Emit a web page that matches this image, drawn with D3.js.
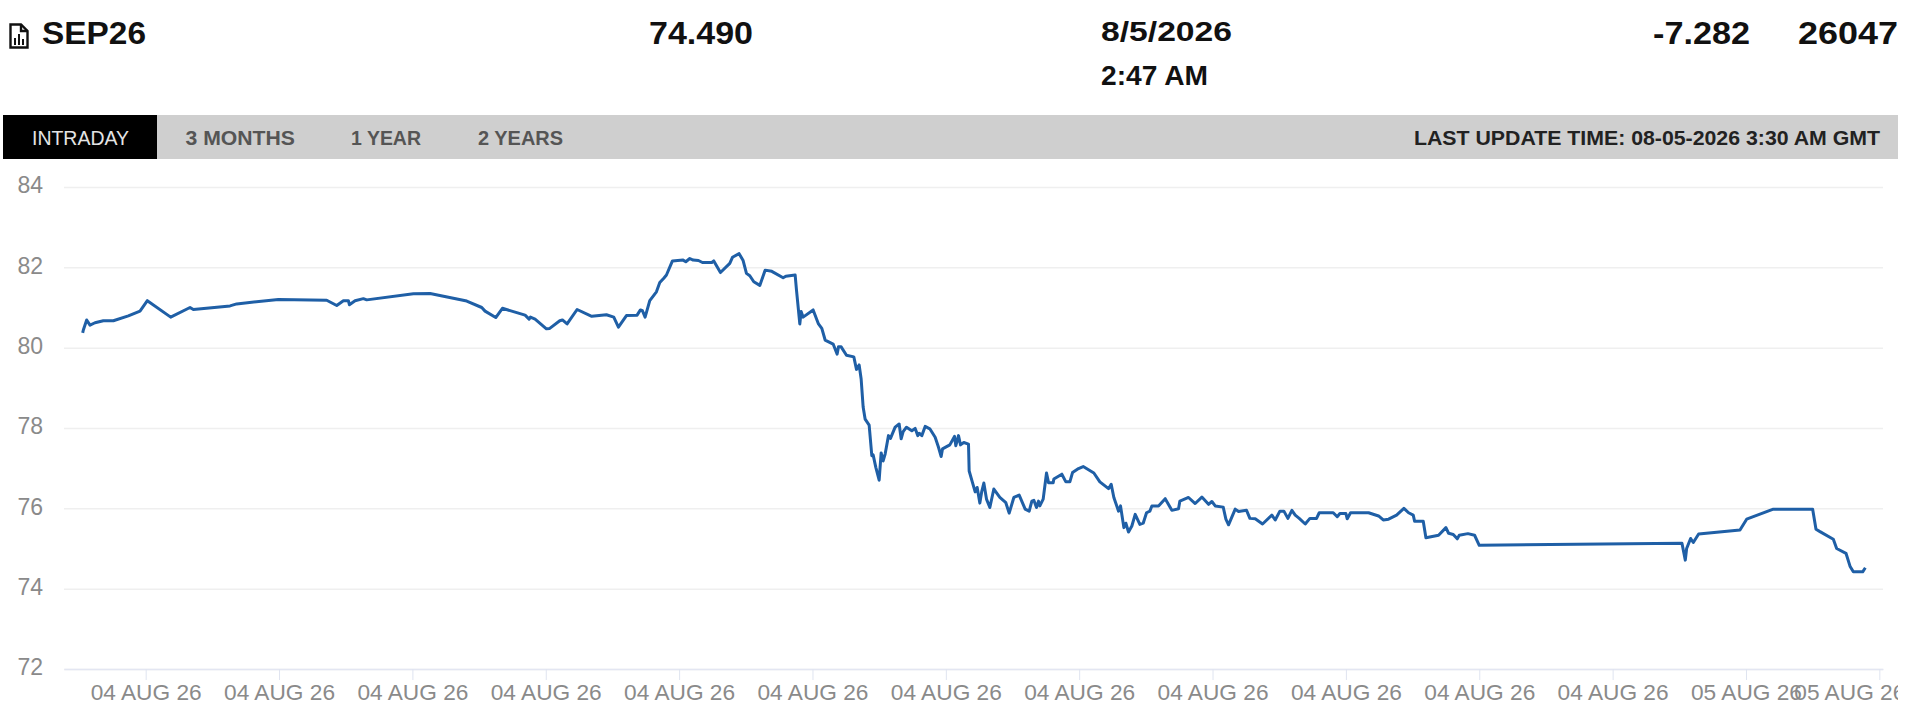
<html>

<head>
    <title>SEP26 intraday</title>
    <script src="https://d3js.org/d3.v7.min.js"></script>
    <style>
        html, body { margin: 0; background: #fff; overflow: hidden; }
        svg { display: block; }
        text { font-family: "Liberation Sans", Arial, sans-serif; }
    </style>
</head>

<body>
    <div id="myPlot"></div>
    <script>
        // hours after 00:00 on 04 AUG
        var hours = [-0.945, -0.935, -0.885, -0.835, -0.76, -0.635, -0.485, -0.26, -0.085, 0.025, 0.375, 0.665, 0.715, 1.265, 1.365, 1.99, 2.715, 2.865, 2.965, 3.04, 3.055, 3.14, 3.265, 3.315, 4.015, 4.265, 4.815,
            5.04, 5.09, 5.25, 5.35, 5.69, 5.75, 5.77, 5.84, 6.01, 6.06, 6.21, 6.25, 6.32, 6.47, 6.69, 6.91, 7.02, 7.09, 7.21, 7.37, 7.42, 7.45, 7.49, 7.56, 7.66, 7.71, 7.77, 7.81, 7.90,
            8.06, 8.10, 8.16, 8.21, 8.29, 8.35, 8.49, 8.52, 8.62, 8.76, 8.80, 8.90, 8.96, 9.01, 9.06, 9.12, 9.21, 9.29, 9.39, 9.56, 9.60, 9.74, 9.76, 9.81, 9.83, 9.86,
            10.01, 10.09, 10.14, 10.19, 10.31, 10.37, 10.39, 10.43, 10.51, 10.62, 10.66, 10.70, 10.73, 10.76, 10.79, 10.85, 10.89, 10.91, 10.95, 11.00, 11.03, 11.06, 11.09, 11.14, 11.17, 11.24, 11.30, 11.33, 11.36, 11.41, 11.49, 11.54, 11.58, 11.60, 11.64, 11.69, 11.76, 11.84, 11.89, 11.93, 11.95,
            12.06, 12.13, 12.15, 12.19, 12.22, 12.27, 12.34, 12.35, 12.40, 12.44, 12.47, 12.51, 12.54, 12.57, 12.61, 12.66, 12.72, 12.81, 12.90, 12.95, 13.02, 13.10, 13.19, 13.25, 13.29, 13.32, 13.36, 13.39, 13.41, 13.46, 13.51, 13.54, 13.61, 13.62, 13.74, 13.80, 13.86, 13.90, 13.99, 14.06, 14.14, 14.22, 14.31,
            14.44, 14.48, 14.52, 14.59, 14.62, 14.67, 14.70, 14.74, 14.79, 14.84, 14.91, 14.96, 15.01, 15.06, 15.09, 15.19, 15.29, 15.39, 15.49, 15.51, 15.64, 15.74, 15.84, 15.94, 15.99, 16.04, 16.16, 16.20, 16.24, 16.34, 16.39, 16.51, 16.56, 16.64, 16.75, 16.89, 16.94, 17.01, 17.07, 17.13, 17.19, 17.24, 17.30, 17.39, 17.46, 17.56, 17.60, 17.81, 17.87, 17.91, 18.00, 18.02, 18.07, 18.34, 18.49, 18.56, 18.64, 18.76, 18.87, 18.94, 19.01, 19.03, 19.16, 19.20, 19.39, 19.50, 19.54, 19.61, 19.67, 19.70, 19.83, 19.93, 20.00,
            23.04, 23.09, 23.11, 23.17, 23.21, 23.29, 23.91, 24.01, 24.41, 25.00, 25.05, 25.11, 25.31, 25.36, 25.50, 25.56, 25.61, 25.75, 25.79];

        var prices = [80.37, 80.44, 80.69, 80.56, 80.62, 80.67, 80.67, 80.79, 80.91, 81.17, 80.76, 81.00, 80.95, 81.04, 81.09, 81.20, 81.18, 81.05, 81.17, 81.17, 81.07, 81.17, 81.22, 81.19, 81.34, 81.35, 81.16,
            81.00, 80.91, 80.75, 80.98, 80.81, 80.71, 80.76, 80.71, 80.47, 80.48, 80.67, 80.69, 80.59, 80.95, 80.78, 80.82, 80.76, 80.51, 80.80, 80.81, 80.94, 80.92, 80.76, 81.17, 81.39, 81.62, 81.73, 81.81, 82.16,
            82.18, 82.14, 82.22, 82.18, 82.17, 82.12, 82.12, 82.16, 81.87, 82.10, 82.25, 82.34, 82.17, 81.85, 81.79, 81.64, 81.55, 81.93, 81.90, 81.74, 81.78, 81.81, 81.44, 80.59, 80.90, 80.76,
            80.94, 80.59, 80.48, 80.19, 80.09, 79.84, 80.02, 80.02, 79.81, 79.77, 79.46, 79.57, 79.22, 78.52, 78.22, 78.07, 77.31, 77.33, 77.02, 76.70, 77.38, 77.18, 77.35, 77.81, 77.74, 78.02, 78.10, 77.73, 77.91, 78.02, 77.93, 77.99, 77.81, 77.87, 77.81, 78.04, 77.98, 77.77, 77.52, 77.29, 77.48,
            77.58, 77.79, 77.56, 77.81, 77.58, 77.64, 77.60, 76.93, 76.64, 76.41, 76.52, 76.13, 76.43, 76.63, 76.23, 76.02, 76.48, 76.27, 76.14, 75.88, 76.27, 76.33, 75.98, 75.93, 76.18, 76.20, 76.02, 76.18, 76.06, 76.23, 76.88, 76.64, 76.64, 76.73, 76.85, 76.66, 76.66, 76.89, 76.99, 77.04, 76.96, 76.88, 76.66,
            76.49, 76.60, 76.27, 75.93, 76.06, 75.52, 75.63, 75.41, 75.56, 75.85, 75.60, 75.63, 75.89, 75.93, 76.06, 76.06, 76.24, 75.95, 75.99, 76.18, 76.27, 76.12, 76.28, 76.10, 76.17, 76.06, 76.03, 75.73, 75.59, 75.98, 75.92, 75.95, 75.75, 75.74, 75.61, 75.83, 75.71, 75.93, 75.93, 75.75, 75.95, 75.83, 75.75, 75.61, 75.75, 75.75, 75.89, 75.89, 75.79, 75.87, 75.87, 75.74, 75.89, 75.89, 75.81, 75.71, 75.73, 75.83, 76.00, 75.89, 75.83, 75.68, 75.68, 75.27, 75.33, 75.52, 75.38, 75.35, 75.24, 75.33, 75.37, 75.33, 75.08,
            75.13, 74.71, 75.00, 75.25, 75.15, 75.36, 75.46, 75.73, 75.98, 75.98, 75.48, 75.42, 75.23, 75.00, 74.88, 74.56, 74.42, 74.42, 74.52];

        var yTicks = [72, 74, 76, 78, 80, 82, 84];
        var xTicks = [0, 2, 4, 6, 8, 10, 12, 14, 16, 18, 20, 22, 24, 26];
        var xTickLabels = ["04 AUG 26", "04 AUG 26", "04 AUG 26", "04 AUG 26", "04 AUG 26", "04 AUG 26", "04 AUG 26",
            "04 AUG 26", "04 AUG 26", "04 AUG 26", "04 AUG 26", "04 AUG 26", "05 AUG 26", "05 AUG 26"];
        var tabNames = ["INTRADAY", "3 MONTHS", "1 YEAR", "2 YEARS"];

        var points = hours.map(function (h, i) { return [h, prices[i]]; });

        var svg = d3.select("#myPlot").append("svg")
            .attr("width", 1898)
            .attr("height", 727);

        // text squeezed or stretched to the width it has in the picture
        function label(x0, x1, baseline, size, weight, color, str) {
            return svg.append("text")
                .attr("x", x0)
                .attr("y", baseline)
                .attr("textLength", x1 - x0)
                .attr("lengthAdjust", "spacingAndGlyphs")
                .style("font-size", size + "px")
                .style("font-weight", weight)
                .style("fill", color)
                .text(str);
        }

        // header row
        var icon = svg.append("g").attr("transform", "translate(9,23)")
            .attr("fill", "none").attr("stroke", "#111").attr("stroke-width", 2.4);
        icon.append("path").attr("d", "M1.5 1.5 H12 L18.5 8 V24.5 H1.5 Z");
        icon.append("path").attr("d", "M12 1.5 V8 H18.5");
        icon.append("path").attr("d", "M6 22 V15 M10 22 V11 M14 22 V16").attr("stroke-width", 2);

        label(42, 146, 44, 32, "bold", "#111", "SEP26");
        label(649, 753, 44, 32, "bold", "#111", "74.490");
        label(1101, 1232, 41, 28, "bold", "#111", "8/5/2026");
        label(1101, 1208, 85, 28, "bold", "#111", "2:47 AM");
        label(1653, 1750, 44, 32, "bold", "#111", "-7.282");
        label(1798, 1898, 44, 32, "bold", "#111", "26047");

        // tab bar
        svg.append("rect").attr("x", 3).attr("y", 115).attr("width", 1895).attr("height", 44).attr("fill", "#cfcfcf");
        svg.append("rect").attr("x", 3).attr("y", 115).attr("width", 154).attr("height", 44).attr("fill", "#000");
        label(32, 129, 144.5, 21, "normal", "#e4e4e4", tabNames[0]);
        label(185.5, 295, 144.5, 21, "bold", "#555", tabNames[1]);
        label(351, 421, 144.5, 21, "bold", "#555", tabNames[2]);
        label(478, 563, 144.5, 21, "bold", "#555", tabNames[3]);
        label(1414, 1880, 144.5, 21, "bold", "#222", "LAST UPDATE TIME: 08-05-2026 3:30 AM GMT");

        // plot
        var xScale = d3.scaleLinear()
            .domain([-1.225, 26.055])
            .range([64, 1883]);

        var yScale = d3.scaleLinear()
            .domain([72, 84])
            .range([669, 187]);

        var yAxis = d3.axisLeft(yScale)
            .tickValues(yTicks)
            .tickSize(-(1883 - 64))
            .tickPadding(21);

        var yGroup = svg.append("g")
            .attr("transform", "translate(64,0)")
            .call(yAxis);
        yGroup.select(".domain").remove();
        yGroup.selectAll("line").attr("stroke", "#efefef").attr("stroke-width", 1.5);
        yGroup.selectAll("text")
            .attr("dy", "0.26em")
            .style("font-size", "23px")
            .style("fill", "#8a8a8a")
            .style("font-family", "'Liberation Sans'");

        var xAxis = d3.axisBottom(xScale)
            .tickValues(xTicks)
            .tickSize(11)
            .tickSizeOuter(0)
            .tickPadding(4)
            .tickFormat(function (d, i) { return xTickLabels[i]; });

        var xGroup = svg.append("g")
            .attr("transform", "translate(0,669)")
            .call(xAxis);
        xGroup.select(".domain").attr("stroke", "#e3e6f2").attr("stroke-width", 1.5);
        xGroup.selectAll("line").attr("stroke", "#dfe4f0");
        xGroup.selectAll("text")
            .attr("textLength", 111)
            .attr("lengthAdjust", "spacingAndGlyphs")
            .style("font-size", "22px")
            .style("fill", "#8a8a8a")
            .style("font-family", "'Liberation Sans'");
        // last label gets pushed left by the edge of the chart
        xGroup.selectAll(".tick:last-of-type text").attr("dx", -30);

        var line = d3.line()
            .x(function (d) { return xScale(d[0]); })
            .y(function (d) { return yScale(d[1]); });

        svg.append("path")
            .datum(points)
            .attr("d", line)
            .attr("fill", "none")
            .attr("stroke", "#1f5fa6")
            .attr("stroke-width", 3)
            .attr("stroke-linejoin", "round");
    </script>
</body>

</html>
